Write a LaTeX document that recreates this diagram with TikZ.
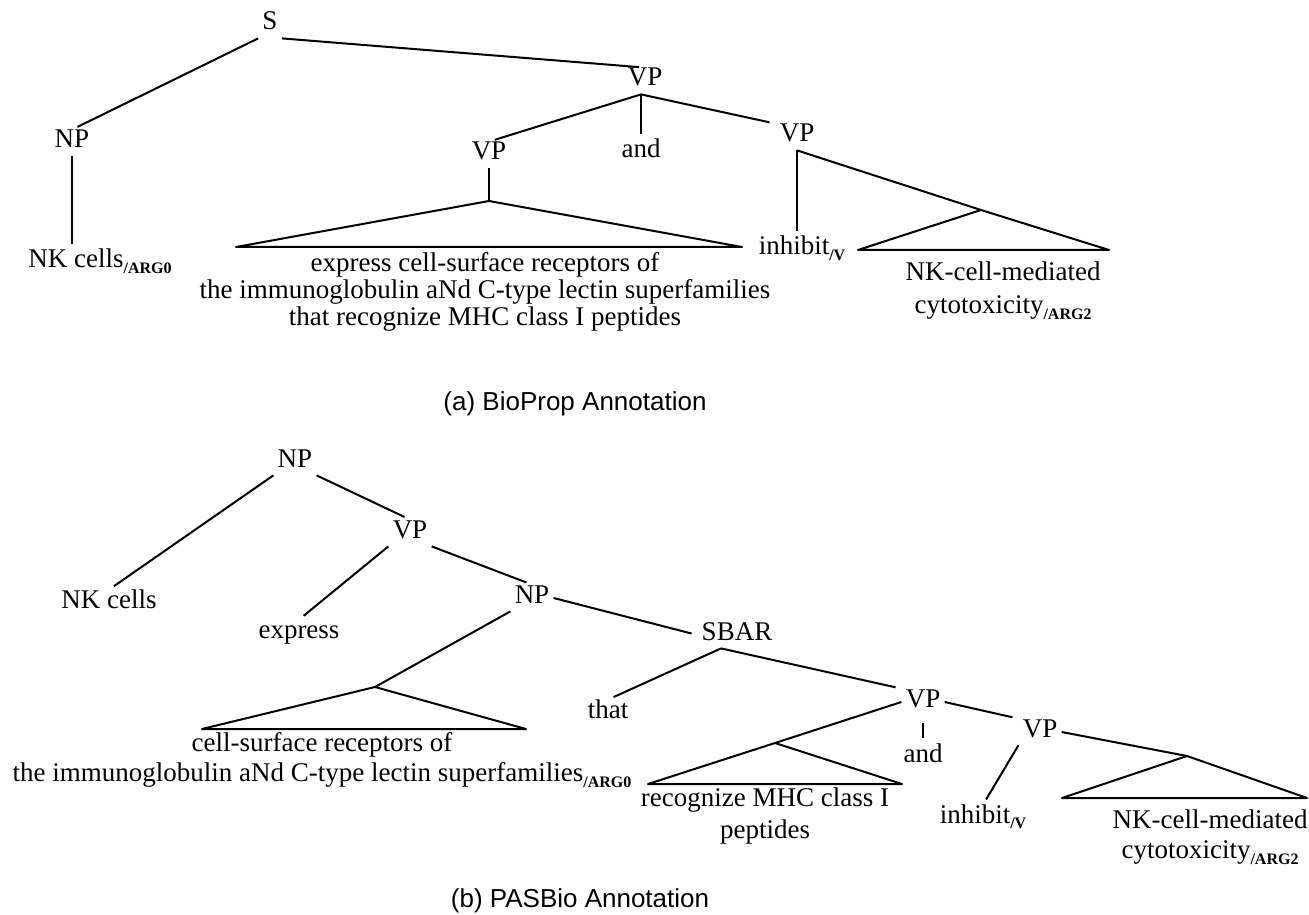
\documentclass[tikz,border=0pt]{standalone}
\usepackage{fontspec}
\setmainfont{Liberation Serif}
\newfontfamily\capfont{Liberation Sans}
\newcommand{\argsub}[1]{\raisebox{-0.45ex}{\fontsize{8}{8}\selectfont\bfseries #1}}
\begin{document}
\begin{tikzpicture}[x=0.5pt, y=-0.5pt,
    every node/.style={font=\fontsize{13.5}{13.5}\selectfont, inner sep=2pt, text height=0.7em, text depth=0.2em},
    leaf/.style={align=center, text height=, text depth=},
    caption/.style={font=\capfont\fontsize{13}{15}\selectfont},
    branch/.style={line width=1pt, shorten >=3pt},
    roof/.style={line width=1pt, line join=round}
]
\useasboundingbox (0,0) rectangle (1309,914);

% ----- (a) BioProp -----
\node (S)    at (270,25)  {S};
\node (NPa)  at (72,143)  {NP};
\node (NKa)  at (100,263) {NK cells\argsub{/ARG0}};
\node (VPa)  at (645,81)  {VP};
\node (VPb)  at (489,155) {VP};
\node (anda) at (641,153) {and};
\node (VPc)  at (797,137) {VP};
\node (inha) at (802,250) {inhibit\argsub{/V}};

\coordinate (a1top)   at (489,201);
\coordinate (a1left)  at (236,247);
\coordinate (a1right) at (742,247);
\coordinate (a2top)   at (981,210);
\coordinate (a2left)  at (858,250);
\coordinate (a2right) at (1109,250);

\node[leaf] (expa) at (485,292) {express cell-surface receptors of\\the immunoglobulin aNd C-type lectin superfamilies\\that recognize MHC class I peptides};
\node[leaf] (nka)  at (1003,291) {NK-cell-mediated\\[3pt]cytotoxicity\argsub{/ARG2}};

\node[caption] (capa) at (575,405) {(a) BioProp Annotation};

% ----- (b) PASBio -----
\node (NPr)  at (295,462) {NP};
\node (NKb)  at (109,603) {NK cells};
\node (VPr)  at (410,533) {VP};
\node (expr) at (299,633) {express};
\node (NPs)  at (532,598) {NP};
\node (SBAR) at (737,635) {SBAR};
\node (that) at (608,713) {that};
\node (VPt)  at (923,702) {VP};
\node (andb) at (923,757) {and};
\node (VPu)  at (1040,732) {VP};
\node (inhb) at (983,818) {inhibit\argsub{/V}};

\coordinate (b1top)   at (375,687);
\coordinate (b1left)  at (202,729);
\coordinate (b1right) at (526,729);
\coordinate (b2top)   at (775,743);
\coordinate (b2left)  at (648,784);
\coordinate (b2right) at (902,784);
\coordinate (b3top)   at (1187,756);
\coordinate (b3left)  at (1062,798);
\coordinate (b3right) at (1307,798);

\node[leaf] (cellb) at (322,760) {cell-surface receptors of\\[1.5pt]the immunoglobulin aNd C-type lectin superfamilies\argsub{/ARG0}};
\node[leaf] (recb)  at (765,816) {recognize MHC class I\\[2.5pt]peptides};
\node[leaf] (nkb)   at (1210,837) {NK-cell-mediated\\[1.5pt]cytotoxicity\argsub{/ARG2}};

\node[caption] (capb) at (580,902) {(b) PASBio Annotation};

% ----- edges (a) -----
\draw[branch] (S.south west) -- (NPa.north);
\draw[branch] (S.south east) -- (VPa.north);
\draw[branch] (NPa.south) -- (NPa.south |- NKa.north);
\draw[branch] (anda.north |- VPa.south) -- (VPb.north);
\draw[branch] (anda.north |- VPa.south) -- (anda.north);
\draw[branch] (anda.north |- VPa.south) -- (VPc.north west);
\draw[roof] (VPb.south) -- (a1top);
\draw[roof] (a1top) -- (a1left) -- (a1right) -- cycle;
\draw[branch] (VPc.south) -- (VPc.south |- inha.north);
\draw[roof] (VPc.south) -- (a2top);
\draw[roof] (a2top) -- (a2left) -- (a2right) -- cycle;

% ----- edges (b) -----
\draw[branch] (NPr.south west) -- (NKb.north);
\draw[branch] (NPr.south east) -- (VPr.north);
\draw[branch] (VPr.south west) -- (expr.north);
\draw[branch] (VPr.south east) -- (NPs.north);
\draw[roof] (NPs.south west) -- (b1top);
\draw[roof] (b1top) -- (b1left) -- (b1right) -- cycle;
\draw[branch] (NPs.east) -- (SBAR.west);
\draw[branch] ([xshift=-8pt]SBAR.south) -- (that.north);
\draw[branch] ([xshift=-8pt]SBAR.south) -- (VPt.north west);
\draw[roof] (VPt.west) -- (b2top);
\draw[roof] (b2top) -- (b2left) -- (b2right) -- cycle;
\draw[branch, shorten <=4pt] (VPt.south) -- (andb.north);
\draw[branch] (VPt.east) -- (VPu.north west);
\draw[branch] (VPu.south west) -- (inhb.north);
\draw[roof] (VPu.east) -- (b3top);
\draw[roof] (b3top) -- (b3left) -- (b3right) -- cycle;

\end{tikzpicture}
\end{document}
